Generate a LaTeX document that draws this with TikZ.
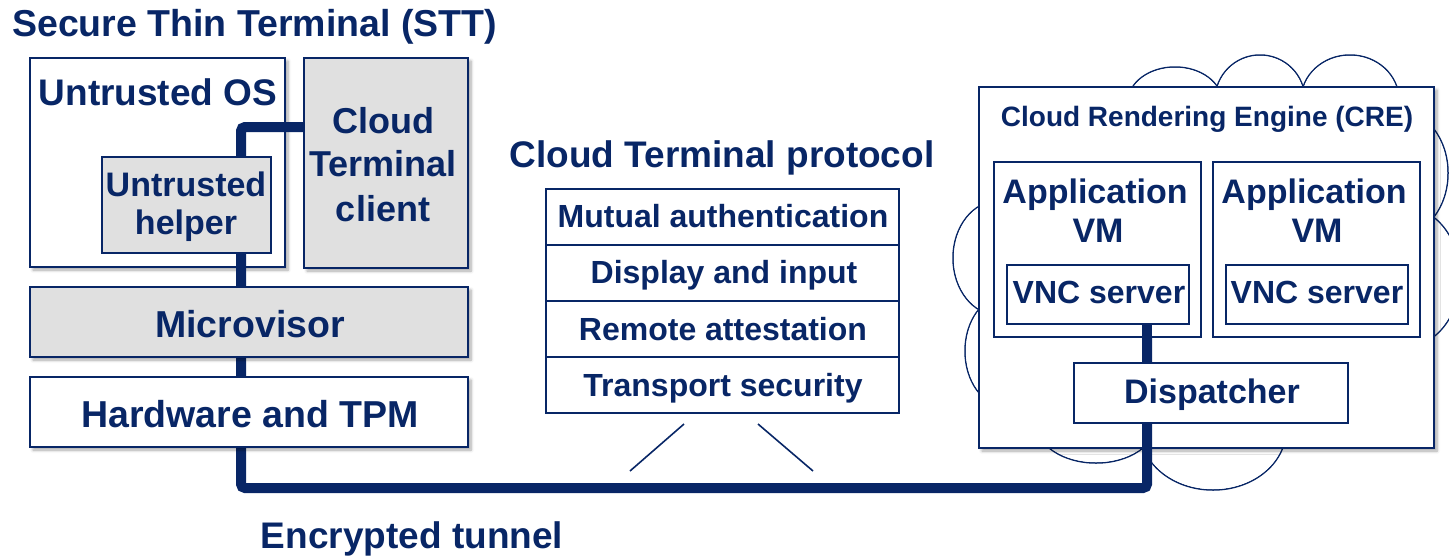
\documentclass[tikz,border=0pt]{standalone}
\usepackage{fontspec}
\setmainfont{Liberation Sans}
\usetikzlibrary{shadows.blur}
\definecolor{navy}{RGB}{8,38,102}
\definecolor{panel}{RGB}{224,224,224}

\begin{document}
\begin{tikzpicture}[x=1pt,y=-1pt,
  box/.style={draw=navy, line width=2pt, fill=white, rectangle, inner sep=0pt, outer sep=0pt, anchor=north west},
  grey/.style={fill=panel},
  shade/.style={blur shadow={shadow xshift=3pt, shadow yshift=-3pt, shadow blur radius=3pt, shadow blur steps=6, shadow opacity=35}},
  lbl/.style={text=navy, font=\bfseries\fontsize{#1}{#1}\selectfont, anchor=base, inner sep=0pt},
  tunnel/.style={draw=navy, line width=10pt, rounded corners=4pt},
  thin/.style={draw=navy, line width=1.6pt},
  puff/.style={draw=navy, line width=1.5pt, fill=white}]

\useasboundingbox (0,0) rectangle (1449,558);

% ---------- cloud behind the rendering engine ----------
\def\puffs{1175/102/47/35, 1260/100/45/45, 1350/100/49/45,
  1400/173/48/62, 1405/277/55/70, 998/258/45/57, 1005/351/40/55,
  1096/423/60/40, 1213/430/73/60}
\foreach \cx/\cy/\rx/\ry in \puffs
  \path[puff] (\cx,\cy) ellipse [x radius=\rx pt, y radius=\ry pt];
\foreach \cx/\cy/\rx/\ry in \puffs
  \fill[white] (\cx,\cy) ellipse [x radius=\rx pt-0.8pt, y radius=\ry pt-0.8pt];

% ---------- outer containers ----------
\node[box, shade, minimum width=455pt, minimum height=361pt] (cre) at (979,87) {};
\node[box, shade, minimum width=255pt, minimum height=209pt] (uos) at (30,58) {};

% ---------- encrypted tunnel ----------
\coordinate (t1) at (241,127);
\coordinate (t2) at (241,488);
\coordinate (t3) at (1147,488);
\coordinate (t4) at (1147,324);
\draw[tunnel] (t1 -| 304,0) -- (t1) -- (t2) -- (t3) -- (t4);

% ---------- Secure Thin Terminal ----------
\node[box, shade, grey, minimum width=164pt, minimum height=210pt] (cli) at (304,58) {};
\node[box, grey, minimum width=169pt, minimum height=96pt] (hlp) at (102,157) {};
\node[box, shade, grey, minimum width=438pt, minimum height=70pt] (mvs) at (30,287) {};
\node[box, shade, minimum width=438pt, minimum height=70pt] (hw) at (30,377) {};

\node[lbl=37.5, anchor=base west] (ttitle) at (12,36) {Secure Thin Terminal (STT)};
\node[lbl=37] (tuos) at (158,105) {Untrusted OS};
\node[lbl=36] (tcli1) at (383,133) {Cloud};
\node[lbl=36] (tcli2) at (383,176) {Terminal};
\node[lbl=36] (tcli3) at (383,221) {client};
\node[lbl=34] (thlp1) at (186,196) {Untrusted};
\node[lbl=34] (thlp2) at (186,234) {helper};
\node[lbl=37.5] (tmvs) at (250,337) {Microvisor};
\node[lbl=37.5] (thw) at (250,427) {Hardware and TPM};

% ---------- protocol stack ----------
\node[lbl=37] (tproto) at (722,167) {Cloud Terminal protocol};
\node[box, line width=1.8pt, minimum width=353pt, minimum height=56pt] (p1) at (546,189) {};
\node[box, line width=1.8pt, minimum width=353pt, minimum height=56pt] (p2) at (546,245) {};
\node[box, line width=1.8pt, minimum width=353pt, minimum height=56pt] (p3) at (546,301) {};
\node[box, line width=1.8pt, minimum width=353pt, minimum height=56pt] (p4) at (546,357) {};
\node[lbl=32] (tp1) at (723,227) {Mutual authentication};
\node[lbl=32] (tp2) at (724,283) {Display and input};
\node[lbl=32] (tp3) at (723,340) {Remote attestation};
\node[lbl=32] (tp4) at (723,396) {Transport security};

\coordinate (d1a) at (684,424);
\coordinate (d1b) at (630,471);
\coordinate (d2a) at (758,424);
\coordinate (d2b) at (813,471);
\draw[thin] (d1a) -- (d1b);
\draw[thin] (d2a) -- (d2b);

\node[lbl=37] (ttun) at (412,548) {Encrypted tunnel};

% ---------- Cloud Rendering Engine ----------
\node[lbl=28] (tcre) at (1207,126) {Cloud Rendering Engine (CRE)};
\node[box, minimum width=207pt, minimum height=175pt] (vm1) at (994,162) {};
\node[box, minimum width=207pt, minimum height=175pt] (vm2) at (1213,162) {};
\node[box, minimum width=182pt, minimum height=59pt] (vnc1) at (1007,265) {};
\node[box, minimum width=182pt, minimum height=59pt] (vnc2) at (1226,265) {};
\draw[tunnel] (t3 |- vnc1.south) -- (t3 |- 0,363);
\node[box, minimum width=274pt, minimum height=60pt] (dsp) at (1074,363) {};

\node[lbl=34] (tvm1a) at (1095,203) {Application};
\node[lbl=34] (tvm1b) at (1098,242) {VM};
\node[lbl=34] (tvm2a) at (1314,203) {Application};
\node[lbl=34] (tvm2b) at (1317,242) {VM};
\node[lbl=32] (tvnc1) at (1099,303) {VNC server};
\node[lbl=32] (tvnc2) at (1317,303) {VNC server};
\node[lbl=34] (tdsp) at (1212,403) {Dispatcher};
\end{tikzpicture}
\end{document}
